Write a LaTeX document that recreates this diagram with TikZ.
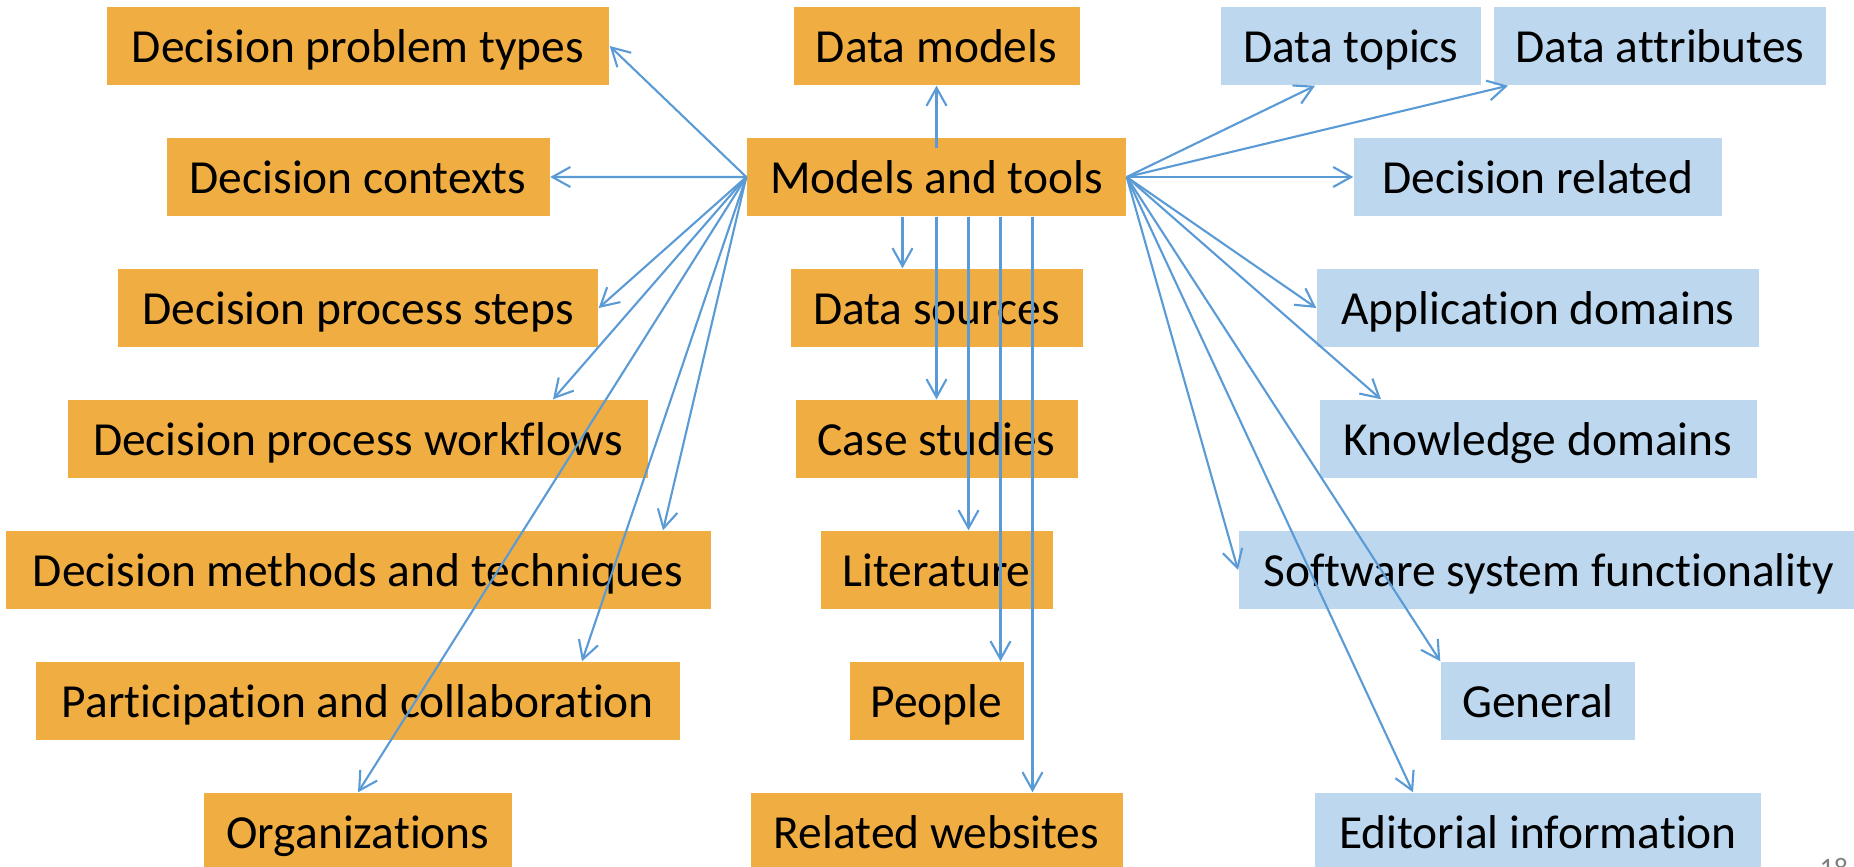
\documentclass[tikz,border=0pt]{standalone}
\usepackage{fontspec}
\setmainfont{Carlito}[Ligatures=NoCommon]
\usetikzlibrary{positioning, arrows.meta}
\definecolor{boxorange}{HTML}{EFAD42}
\definecolor{boxblue}{HTML}{BDD7EE}
\definecolor{linkblue}{HTML}{5B9BD5}

\begin{document}
\begin{tikzpicture}[node distance={13.1mm},
  main/.style = {inner sep=0pt, minimum height=7.8mm, text height=4.5mm, text depth=1.3mm, font=\fontsize{13.5pt}{16pt}\selectfont},
  ora/.style = {main, fill=boxorange},
  blu/.style = {main, fill=boxblue},
  arr/.style = {draw=linkblue, line width=0.6pt, -{Straight Barb[length=1.8mm, width=2mm]}}]
\useasboundingbox (0,0) rectangle (18.54,-8.66);

% left column
\node[ora, minimum width=50.2mm] (pt) at (3.58,-0.46) {Decision problem types};
\node[ora, minimum width=38.3mm] (dc) [below of=pt] {Decision contexts};
\node[ora, minimum width=48mm] (dps) [below of=dc] {Decision process steps};
\node[ora, minimum width=58mm] (dpw) [below of=dps] {Decision process workflows};
\node[ora, minimum width=70.5mm] (dmt) [below of=dpw] {Decision methods and techniques};
\node[ora, minimum width=64.4mm] (pc) [below of=dmt] {Participation and collaboration};
\node[ora, minimum width=30.8mm] (org) [below of=pc] {Organizations};

% middle column
\node[ora, minimum width=37.9mm] (mt) at (9.365,-1.77) {Models and tools};
\node[ora, minimum width=28.6mm] (dm) [above of=mt] {Data models};
\node[ora, minimum width=29.2mm] (ds) [below of=mt] {Data sources};
\node[ora, minimum width=28.2mm] (cs) [below of=ds] {Case studies};
\node[ora, minimum width=23.2mm] (lit) [below of=cs] {Literature};
\node[ora, minimum width=17.4mm] (ppl) [below of=lit] {People};
\node[ora, minimum width=37.2mm] (rw) [below of=ppl] {Related websites};

% right column
\node[blu, minimum width=26mm] (dt) at (13.51,-0.46) {Data topics};
\node[blu, minimum width=33.2mm] (da) at (16.60,-0.46) {Data attributes};
\node[blu, minimum width=36.8mm] (dr) at (15.38,-1.77) {Decision related\hspace{7mm}};
\node[blu, minimum width=44.2mm] (ad) [below of=dr] {Application domains};
\node[blu, minimum width=43.7mm] (kd) [below of=ad] {Knowledge domains};
\node[blu, minimum width=62mm, anchor=west] (ssf) at (12.38,-5.70) {Software system functionality};
\node[blu, minimum width=19.4mm] (gen) [below of=kd, yshift=-13.1mm] {General};
\node[blu, minimum width=44.6mm] (ei) [below of=gen] {Editorial information};

\node[anchor=north west, inner sep=0pt, text=gray, font=\fontsize{8pt}{9pt}\selectfont] (pgnum) at (18.19,-8.58) {18};

% links to the left
\draw[arr] (mt.west) -- (pt.east);
\draw[arr] (mt.west) -- (dc.east);
\draw[arr] (mt.west) -- (dps.east);
\draw[arr] (mt.west) -- ([xshift=19.5mm]dpw.north);
\draw[arr] (mt.west) -- ([xshift=30.5mm]dmt.north);
\draw[arr] (mt.west) -- ([xshift=22.4mm]pc.north);
\draw[arr] (mt.west) -- (org.north);

% links up and down
\draw[arr] ([yshift=-1.1mm]mt.north) -- (dm.south);
\draw[arr] ([xshift=-3.4mm]mt.south) -- ([xshift=-3.4mm]ds.north);
\draw[arr] (mt.south) -- (cs.north);
\draw[arr] ([xshift=3.2mm]mt.south) -- ([xshift=3.2mm]lit.north);
\draw[arr] ([xshift=6.4mm]mt.south) -- ([xshift=6.4mm]ppl.north);
\draw[arr] ([xshift=9.6mm]mt.south) -- ([xshift=9.6mm]rw.north);

% links to the right
\draw[arr] (mt.east) -- ([xshift=-3.6mm]dt.south);
\draw[arr] (mt.east) -- ([xshift=-15.2mm]da.south);
\draw[arr] (mt.east) -- (dr.west);
\draw[arr] (mt.east) -- (ad.west);
\draw[arr] (mt.east) -- ([xshift=-15.7mm]kd.north);
\draw[arr] (mt.east) -- (ssf.west);
\draw[arr] (mt.east) -- (gen.north west);
\draw[arr] (mt.east) -- ([xshift=-12.5mm]ei.north);
\end{tikzpicture}
\end{document}
